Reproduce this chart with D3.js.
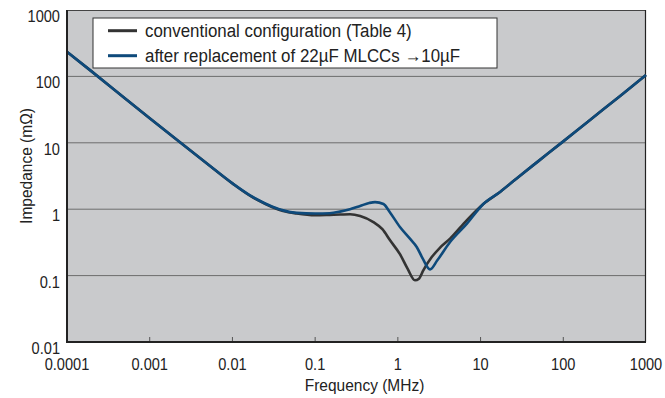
<!DOCTYPE html>
<html>
<head>
<meta charset="utf-8">
<script src="https://cdn.jsdelivr.net/npm/d3@7"></script>
<style>
  body { margin: 0; background: #fff; }
  text { font-family: "Liberation Sans", Arial, sans-serif; fill: #222; }
</style>
</head>
<body>
<div id="chart"></div>
<script>
// Impedance vs frequency, two configurations
var freqConv = [0.0001, 0.0002, 0.0005, 0.001, 0.002, 0.005, 0.01, 0.0163, 0.02, 0.03, 0.041, 0.06, 0.1, 0.15, 0.2, 0.264, 0.35, 0.506, 0.65, 0.805, 1.06, 1.31, 1.61, 1.8, 2.03, 2.57, 3.2, 4.28, 6.8, 10.8, 17.2, 30, 50, 100, 200, 500, 1000];
var zConv    = [235, 118, 47, 23.5, 11.8, 4.8, 2.45, 1.6, 1.38, 1.08, 0.94, 0.86, 0.81, 0.82, 0.83, 0.84, 0.79, 0.64, 0.5, 0.34, 0.21, 0.127, 0.085, 0.09, 0.12, 0.19, 0.26, 0.36, 0.68, 1.2, 1.82, 3.2, 5.3, 10.5, 21, 52, 105];

var freqNew = [0.0001, 0.0002, 0.0005, 0.001, 0.002, 0.005, 0.01, 0.0163, 0.02, 0.03, 0.041, 0.06, 0.1, 0.15, 0.2, 0.264, 0.35, 0.45, 0.53, 0.67, 0.8, 1.06, 1.4, 1.69, 2.0, 2.45, 3.0, 4.28, 6.8, 10.8, 17.2, 30, 50, 100, 200, 500, 1000];
var zNew    = [235, 118, 47, 23.5, 11.8, 4.8, 2.45, 1.62, 1.4, 1.1, 0.96, 0.88, 0.86, 0.87, 0.92, 1.0, 1.12, 1.24, 1.28, 1.2, 0.9, 0.54, 0.36, 0.27, 0.18, 0.124, 0.17, 0.32, 0.6, 1.2, 1.82, 3.2, 5.3, 10.5, 21, 52, 105];

var xTicks = [0.0001, 0.001, 0.01, 0.1, 1, 10, 100, 1000];
var xTickLabels = ["0.0001", "0.001", "0.01", "0.1", "1", "10", "100", "1000"];
var yTicks = [0.01, 0.1, 1, 10, 100, 1000];
var yTickLabels = ["0.01", "0.1", "1", "10", "100", "1000"];

var seriesNames = ["conventional configuration (Table 4)", "after replacement of 22\u00b5F MLCCs \u219210\u00b5F"];
var seriesColors = ["#333333", "#0e4a7b"];

var svgWidth = 665;
var svgHeight = 398;
var margin = { top: 10, right: 19, bottom: 56, left: 67 };
var width = svgWidth - margin.left - margin.right;
var height = svgHeight - margin.top - margin.bottom;

var svg = d3.select("#chart")
  .append("svg")
  .attr("width", svgWidth)
  .attr("height", svgHeight);

var chartGroup = svg.append("g")
  .attr("transform", `translate(${margin.left}, ${margin.top})`);

var x = d3.scaleLog().domain([0.0001, 1000]).range([0, width]);
var y = d3.scaleLog().domain([0.01, 1000]).range([height, 0]);

// text in the original is a bit taller than wide
var stretch = 1.08;
function label(g, tx, ty, str, size, anchor, rot) {
  var t = `translate(${tx}, ${ty})` + (rot ? ` rotate(${rot})` : "") + ` scale(1, ${stretch})`;
  return g.append("text")
    .attr("transform", t)
    .attr("text-anchor", anchor || "start")
    .attr("font-size", size + "px")
    .text(str);
}

// plot background
chartGroup.append("rect")
  .attr("width", width)
  .attr("height", height)
  .attr("fill", "#c9cacc");

// horizontal grid lines
chartGroup.append("g")
  .selectAll("line")
  .data(yTicks.slice(1, -1))
  .enter()
  .append("line")
  .attr("x1", 0)
  .attr("x2", width)
  .attr("y1", d => y(d))
  .attr("y2", d => y(d))
  .attr("stroke", "#6d6d6d")
  .attr("stroke-width", 1);

// inner tick marks on bottom axis
chartGroup.append("g")
  .selectAll("line")
  .data(xTicks.slice(1, -1))
  .enter()
  .append("line")
  .attr("x1", d => x(d))
  .attr("x2", d => x(d))
  .attr("y1", height)
  .attr("y2", height - 5)
  .attr("stroke", "#555")
  .attr("stroke-width", 1);

// frame: top/right thin, left/bottom heavier
chartGroup.append("line").attr("x1", 0).attr("x2", width).attr("y1", 0.5).attr("y2", 0.5)
  .attr("stroke", "#444").attr("stroke-width", 1);
chartGroup.append("line").attr("x1", width - 0.5).attr("x2", width - 0.5).attr("y1", 0).attr("y2", height)
  .attr("stroke", "#222").attr("stroke-width", 1.2);

// data lines
var line = d3.line()
  .x(d => x(d[0]))
  .y(d => y(d[1]))
  .curve(d3.curveMonotoneX);

chartGroup.append("path")
  .datum(d3.zip(freqConv, zConv))
  .attr("fill", "none")
  .attr("stroke", seriesColors[0])
  .attr("stroke-width", 2.6)
  .attr("d", line);

chartGroup.append("path")
  .datum(d3.zip(freqNew, zNew))
  .attr("fill", "none")
  .attr("stroke", seriesColors[1])
  .attr("stroke-width", 2.6)
  .attr("d", line);

chartGroup.append("line").attr("x1", 0).attr("x2", 0).attr("y1", 0).attr("y2", height + 1)
  .attr("stroke", "#222").attr("stroke-width", 2);
chartGroup.append("line").attr("x1", -1).attr("x2", width).attr("y1", height).attr("y2", height)
  .attr("stroke", "#222").attr("stroke-width", 2);

// tick labels
xTicks.forEach(function(d, i) {
  label(chartGroup, x(d), height + 28, xTickLabels[i], 14.6, "middle");
});
yTicks.forEach(function(d, i) {
  label(chartGroup, -7, y(d) + 12, yTickLabels[i], 14.6, "end");
});

// legend
var legend = chartGroup.append("g").attr("transform", "translate(26, 8)");
legend.append("rect")
  .attr("width", 404)
  .attr("height", 50)
  .attr("fill", "#fff")
  .attr("stroke", "#333")
  .attr("stroke-width", 1);

seriesNames.forEach(function(name, i) {
  var ly = 12.7 + i * 25;
  legend.append("line")
    .attr("x1", 15).attr("x2", 44)
    .attr("y1", ly).attr("y2", ly)
    .attr("stroke", seriesColors[i])
    .attr("stroke-width", 3);
  label(legend, 52, ly + 6, name, 16.9, "start");
});

// axis titles
label(chartGroup, -35, height / 2 - 10, "Impedance (m\u03a9)", 15.5, "middle", -90);
label(chartGroup, width / 2 + 8, height + 49, "Frequency (MHz)", 15.5, "middle");
</script>
</body>
</html>
